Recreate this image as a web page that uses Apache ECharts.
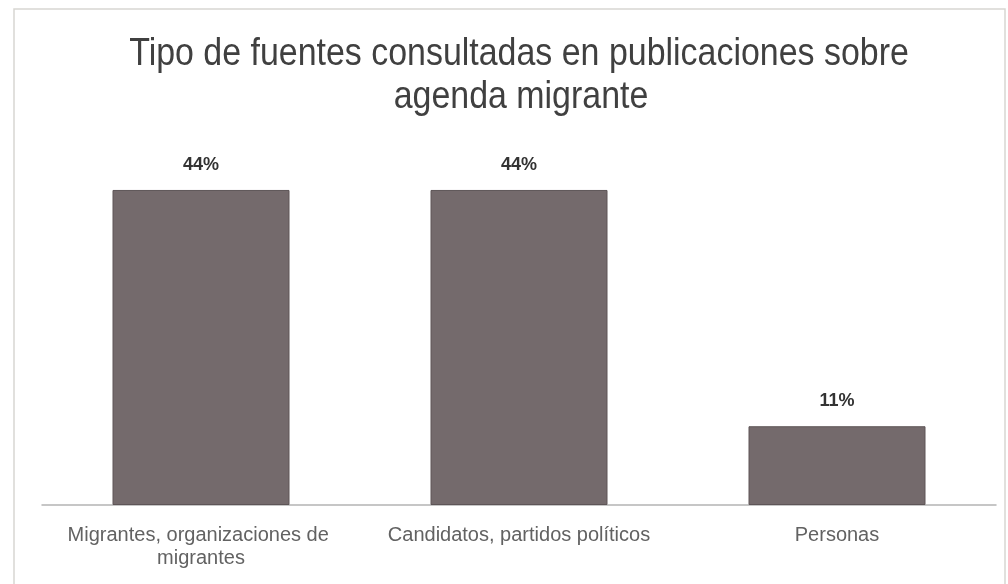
<!DOCTYPE html>
<html>
<head>
<meta charset="utf-8">
<script src="https://cdn.jsdelivr.net/npm/echarts@6/dist/echarts.min.js"></script>
<style>
  html, body { margin: 0; padding: 0; background: #fff; }
  #chart { width: 1008px; height: 584px; }
</style>
</head>
<body>
<div id="chart"></div>
<script>
// Source types consulted in publications on the migrant agenda (%)
const titleLines = [
  'Tipo de fuentes consultadas en publicaciones sobre',
  'agenda migrante'
];
const categories = [
  'Migrantes, organizaciones de migrantes',
  'Candidatos, partidos políticos',
  'Personas'
];
const shares = [44, 44, 11];

const chart = echarts.init(document.getElementById('chart'));

// Condensed title: regular sans squeezed horizontally
const titleStyle = {
  fontFamily: '"Liberation Sans", Arial, sans-serif',
  fontSize: 39,
  fill: '#404040',
  textAlign: 'center',
  textVerticalAlign: 'middle'
};

chart.setOption({
  backgroundColor: '#ffffff',
  animation: false,
  graphic: [
    {
      type: 'rect',
      shape: { x: 14, y: 9, width: 991, height: 590 },
      style: { fill: 'none', stroke: '#d8d6d2', lineWidth: 1.5 },
      silent: true
    },
    {
      type: 'text',
      x: 519, y: 54, scaleX: 0.87,
      style: Object.assign({ text: titleLines[0] }, titleStyle)
    },
    {
      type: 'text',
      x: 521, y: 97, scaleX: 0.87,
      style: Object.assign({ text: titleLines[1] }, titleStyle)
    }
  ],
  grid: { left: 42, right: 12, top: 147, bottom: 79 },
  xAxis: {
    type: 'category',
    data: categories,
    axisLine: { lineStyle: { color: '#b4b4b4', width: 1.5 } },
    axisTick: { show: false },
    axisLabel: {
      interval: 0,
      margin: 19,
      width: 300,
      overflow: 'break',
      lineHeight: 23,
      fontFamily: '"Liberation Sans", Arial, sans-serif',
      fontSize: 20,
      color: '#626262'
    }
  },
  yAxis: {
    type: 'value',
    min: 0,
    max: 50,
    show: false,
    splitLine: { show: false }
  },
  series: [{
    type: 'bar',
    data: shares,
    barWidth: 177,
    itemStyle: { color: '#746a6c', borderColor: '#5e5557', borderWidth: 1 },
    label: {
      show: true,
      position: 'top',
      distance: 16,
      formatter: p => p.value + '%',
      fontFamily: '"Liberation Sans", Arial, sans-serif',
      fontWeight: 'bold',
      fontSize: 18,
      color: '#333333'
    }
  }]
});
</script>
</body>
</html>
